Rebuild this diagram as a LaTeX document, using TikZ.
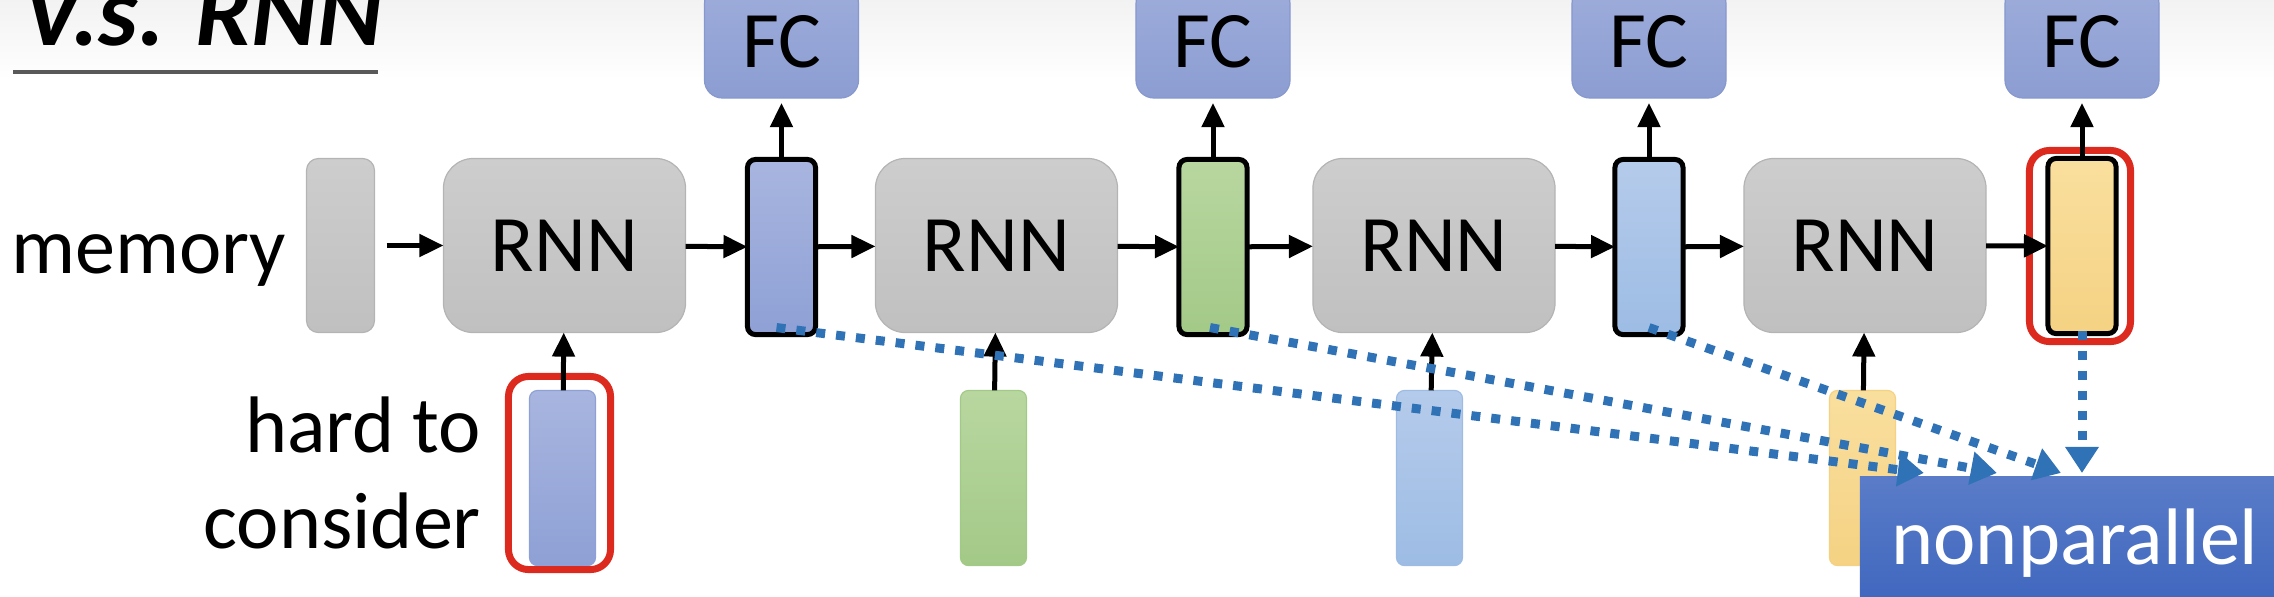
\documentclass[tikz,border=0pt]{standalone}
\usepackage{fontspec}
\setmainfont{Carlito}
\usetikzlibrary{arrows.meta}
\usetikzlibrary{calc,positioning}

\definecolor{rnntop}{HTML}{CDCDCD}
\definecolor{rnnbot}{HTML}{C0C0C0}
\definecolor{rnnline}{HTML}{B4B4B4}
\definecolor{fctop}{HTML}{9DACDA}
\definecolor{fcbot}{HTML}{8C9DD2}
\definecolor{fcline}{HTML}{8798CE}
\definecolor{blueA}{HTML}{A8B5DF}
\definecolor{blueB}{HTML}{8EA0D5}
\definecolor{greenA}{HTML}{B8D7A0}
\definecolor{greenB}{HTML}{A3C987}
\definecolor{skyA}{HTML}{B5CBEB}
\definecolor{skyB}{HTML}{9DBCE4}
\definecolor{sandA}{HTML}{F9DF9E}
\definecolor{sandB}{HTML}{F5D283}
\definecolor{frame}{HTML}{DC2A1E}
\definecolor{depblue}{HTML}{2F72B5}
\definecolor{nptop}{HTML}{5A7CC8}
\definecolor{npbot}{HTML}{3E66BE}

\begin{document}
\begin{tikzpicture}[x=0.01cm, y=-0.01cm,
    >={Triangle[length=0.24cm,width=0.22cm]},
    every node/.style={font=\fontsize{22.8}{27}\selectfont, inner sep=0pt, outer sep=0pt},
    rnnbox/.style={draw=rnnline, line width=0.012cm, top color=rnntop, bottom color=rnnbot,
        rounded corners=0.3cm, minimum width=2.42cm, minimum height=1.74cm},
    membox/.style={rnnbox, rounded corners=0.12cm, minimum width=0.68cm},
    fcbox/.style={draw=fcline, line width=0.012cm, top color=fctop, bottom color=fcbot,
        rounded corners=0.18cm, minimum width=1.54cm, minimum height=1.12cm},
    hbox/.style 2 args={draw=black, line width=0.05cm, top color=#1, bottom color=#2,
        rounded corners=0.08cm, minimum width=0.68cm, minimum height=1.75cm},
    inbox/.style 2 args={draw=#2, line width=0.012cm, top color=#1, bottom color=#2,
        rounded corners=0.08cm, minimum width=0.66cm, minimum height=1.75cm},
    redframe/.style={draw=frame, line width=0.07cm, rounded corners=0.2cm},
    flow/.style={->, line width=0.05cm},
    dep/.style={-{Triangle[length=0.26cm,width=0.32cm]}, draw=depblue, line width=0.09cm,
        dash pattern=on 0.09cm off 0.11cm},
    npbox/.style={top color=nptop, bottom color=npbot, text=white,
        minimum width=4.3cm, minimum height=1.32cm}
]

\useasboundingbox (0,0) rectangle (2274,596);
\clip (0,0) rectangle (2274,596);
\shade[top color=gray!10, bottom color=white] (0,0) rectangle (2274,80);

%%% title
\node[anchor=base west, font=\fontsize{28.5}{32}\selectfont\bfseries\itshape] (title) at (22,45) {V.s. RNN};
\draw[line width=0.04cm, draw=black!65] (13,72) -- (378,72);

%%% labels
\node[anchor=base east] (memlabel) at (286,273) {memory};
\node[anchor=base east] (hard) at (481,452) {hard to};
\node[anchor=base east] (consider) at (481,548) {consider};

%%% recurrent chain
\node[membox] (mem) at (340.5,245.5) {};
\node[rnnbox] (rnn1) at (564.5,245.5) {RNN};
\node[rnnbox] (rnn2) at (996.5,245.5) {RNN};
\node[rnnbox] (rnn3) at (1434,245.5) {RNN};
\node[rnnbox] (rnn4) at (1865,245.5) {RNN};

\node[hbox={blueA}{blueB}] (h1) at (781.5,247) {};
\node[hbox={greenA}{greenB}] (h2) at (1213,247) {};
\node[hbox={skyA}{skyB}] (h3) at (1649,247) {};
\node[hbox={sandA}{sandB}] (h4) at (2082,246) {};
\node[redframe, minimum width=1.01cm, minimum height=1.91cm] (f4) at (2080,246) {};

\node[fcbox] (fc1) at (781.5,42) {FC};
\node[fcbox] (fc2) at (1213,42) {FC};
\node[fcbox] (fc3) at (1649,42) {FC};
\node[fcbox] (fc4) at (2082,42) {FC};

%%% inputs
\node[inbox={blueA}{blueB}] (x1) at (562.5,478) {};
\node[inbox={greenA}{greenB}] (x2) at (993.5,478) {};
\node[inbox={skyA}{skyB}] (x3) at (1429.5,478) {};
\node[inbox={sandA}{sandB}] (x4) at (1862.5,478) {};
\node[redframe, minimum width=1.02cm, minimum height=1.93cm] (f1) at (559.5,473) {};

%%% arrows
\draw[flow, shorten <=0.12cm] (mem) -- (rnn1);
\foreach \i in {1,...,4}{
    \draw[flow] (rnn\i) -- (h\i);
    \draw[flow, shorten >=0.05cm] (h\i) -- (fc\i);
    \draw[flow] (x\i) -- (rnn\i);
}
\foreach \i/\j in {1/2,2/3,3/4}
    \draw[flow] (h\i) -- (rnn\j);

%%% nonparallel
\node[npbox] (np) at (2075,543) {nonparallel};
\coordinate (t1) at ([xshift=0.64cm,yshift=0.04cm]np.north west);
\coordinate (t2) at ([xshift=1.37cm,yshift=0.04cm]np.north west);
\coordinate (t3) at ([xshift=2.01cm,yshift=0.04cm]np.north west);
\coordinate (t4) at ([yshift=0.04cm]h4.south |- np.north);

\draw[dep] ([xshift=-0.05cm,yshift=0.07cm]h1.south) -- (t1);
\draw[dep] ([xshift=-0.03cm,yshift=0.07cm]h2.south) -- (t2);
\draw[dep] ([yshift=0.07cm]h3.south) -- (t3);
\draw[dep] ([yshift=0.03cm]h4.south) -- (t4);

\end{tikzpicture}
\end{document}
